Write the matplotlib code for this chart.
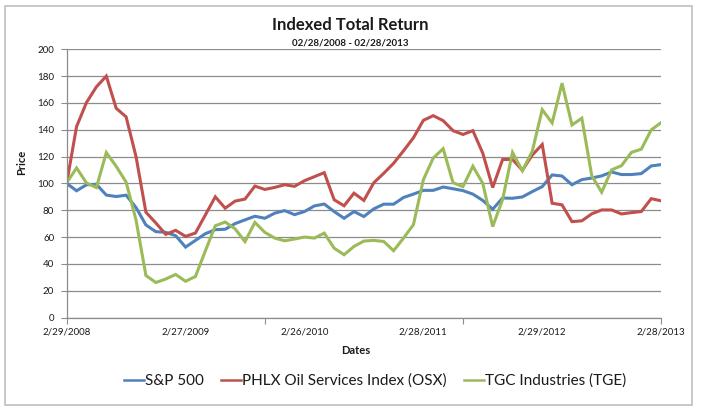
#!/usr/bin/env python3
"""
Indexed total return chart: S&P 500 vs OSX vs TGE, monthly, 2008-2013.
"""

import matplotlib
matplotlib.use("Agg")
import matplotlib.pyplot as plt
from matplotlib.patches import Rectangle
import numpy as np

plt.rcParams['font.family'] = ['Lato', 'DejaVu Sans']

# monthly index values, 2/29/2008 .. 2/28/2013 (61 months)
sp500 = [100, 94.5, 99, 99.3, 91.3, 90.2, 91.2, 82, 69, 64,
         63.5, 61, 52.5, 57.5, 62.5, 65.5, 65.8, 70, 72.8, 75.5,
         74, 77.8, 79.7, 76.7, 79, 83.2, 84.6, 79, 74, 79,
         75.3, 81, 84.5, 84.5, 89.5, 92, 94.8, 94.8, 97.3, 96,
         94.6, 92, 87.3, 80.7, 89.1, 88.9, 89.9, 93.9, 97.6, 106.3,
         105.5, 99, 102.8, 104, 105.6, 108.5, 106.6, 106.6, 107.3, 113,
         114]
osx = [100, 142.4, 160.3, 172, 180, 156, 149.6, 120, 78.5, 70.5,
       62, 65, 60.5, 63, 76.5, 90, 81.5, 86.8, 88.3, 98,
       95.5, 97, 99, 97.8, 102, 105, 108, 87.8, 83.3, 92.7,
       87.3, 100.5, 107.5, 115, 124.3, 134, 147, 150.5, 146.8, 139.3,
       136.5, 139.3, 122.5, 96.9, 117.8, 117.8, 109.8, 121.2, 129, 85.2,
       84, 71.5, 72.1, 77.3, 80.2, 80.2, 77.2, 78.2, 79, 88.6,
       87]
tge = [100.5, 111.5, 100.3, 96.9, 123, 112.7, 101, 72.7, 31.3, 26.1,
       28.7, 32.1, 27, 30.6, 49.7, 68.4, 71.2, 66.1, 56.6, 70.9,
       63.5, 59.2, 57.2, 58.5, 60, 59.2, 62.9, 51.7, 46.8, 53,
       57, 57.5, 56.7, 49.8, 59.2, 69.2, 102.7, 118.9, 125.9, 100.5,
       97.6, 112.8, 100, 67.8, 88, 123.1, 109.4, 124.1, 155, 145.1,
       174.7, 143.6, 148.6, 105.7, 93.4, 110.1, 113.2, 123.1, 125.5, 139.9,
       145.3]

date_labels = ['2/29/2008', '2/27/2009', '2/26/2010', '2/28/2011', '2/29/2012', '2/28/2013']
label_step = 12
tick_step = 20

series_names = ['S&P 500', 'PHLX Oil Services Index (OSX)', 'TGC Industries (TGE)']
colors = ['#4F81BD', '#C0504D', '#9BBB59']

grid_color = '#8c8c8c'
text_color = '#1a1a1a'

fig = plt.figure(figsize=(7.01, 4.07), dpi=100)
ax = fig.add_axes([0.0951, 0.2199, 0.848, 0.659])

x = np.arange(len(sp500))
for vals, name, c in zip([sp500, osx, tge], series_names, colors):
    ax.plot(x, vals, color=c, lw=2.2, label=name, solid_joinstyle='miter')

ax.set_xlim(0, len(sp500) - 1)
ax.set_ylim(0, 200)
ax.set_yticks(range(0, 201, 20))
ax.yaxis.grid(True, color=grid_color, lw=0.9)
ax.set_axisbelow(True)

# ticks every 20 months, labels every 12 months (like the Excel original)
ax.xaxis.remove_overlapping_locs = False
ax.set_xticks(range(0, len(sp500), tick_step))
ax.set_xticklabels([])
ax.set_xticks(range(0, len(sp500), label_step), minor=True)
ax.set_xticklabels(date_labels, minor=True)
ax.tick_params(axis='x', which='major', length=4, color=grid_color, direction='out')
ax.tick_params(axis='x', which='minor', length=0, pad=7, labelsize=7, labelcolor=text_color)
ax.tick_params(axis='y', length=4, color=grid_color, pad=5, labelsize=7, labelcolor=text_color)

for side in ['top', 'right']:
    ax.spines[side].set_visible(False)
for side in ['left', 'bottom']:
    ax.spines[side].set_color(grid_color)
    ax.spines[side].set_linewidth(0.9)

fig.text(0.5, 0.939, 'Indexed Total Return', ha='center', va='center',
         fontsize=12, fontweight='bold', color=text_color)
fig.text(0.5, 0.894, '02/28/2008 - 02/28/2013', ha='center', va='center',
         fontsize=7, fontweight='bold', color=text_color)
fig.text(0.031, 0.6, 'Price', rotation=90, ha='center', va='center',
         fontsize=8, fontweight='bold', color=text_color)
fig.text(0.507, 0.14, 'Dates', ha='center', va='center',
         fontsize=8, fontweight='bold', color=text_color)

leg = ax.legend(loc='center', bbox_to_anchor=(0.535, 0.064), bbox_transform=fig.transFigure,
                ncol=3, frameon=False, fontsize=11, handlelength=1.3, handletextpad=0.1,
                columnspacing=1.1, labelcolor=text_color)
for line in leg.get_lines():
    line.set_linewidth(1.8)

# chart area border
fig.patches.append(Rectangle((5 / 701, 2 / 407), 687 / 701, 399 / 407,
                             transform=fig.transFigure, fill=False,
                             edgecolor='#bfbfbf', lw=1.2))

fig.savefig('out.png', dpi=100)
